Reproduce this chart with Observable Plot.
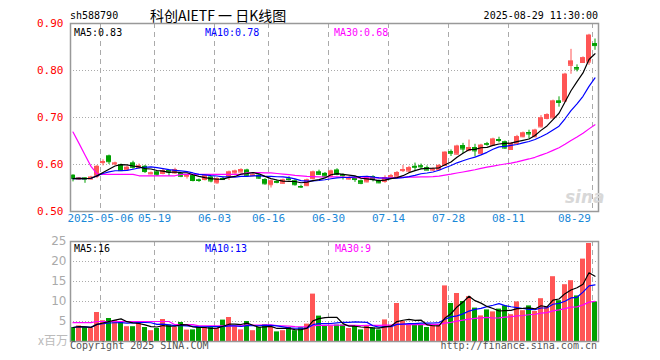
<!DOCTYPE html>
<html><head><meta charset="utf-8">
<script src="https://cdn.jsdelivr.net/npm/d3@7"></script>
<script src="https://cdn.jsdelivr.net/npm/@observablehq/plot@0.6"></script>
<style>
body{margin:0;background:#fff;}
#wrap{position:relative;width:660px;height:360px;overflow:hidden;font-family:"DejaVu Sans Mono",monospace;}
.t{position:absolute;white-space:nowrap;font-size:10px;line-height:10px;}
#wrap svg{position:absolute;left:0;}
</style></head><body>
<div id="wrap"></div>
<script>
const dates = [
"2025-04-24","2025-04-25","2025-04-28","2025-04-29","2025-04-30",
"2025-05-06","2025-05-07","2025-05-08","2025-05-09","2025-05-12","2025-05-13","2025-05-14","2025-05-15","2025-05-16",
"2025-05-19","2025-05-20","2025-05-21","2025-05-22","2025-05-23","2025-05-26","2025-05-27","2025-05-28","2025-05-29","2025-05-30",
"2025-06-03","2025-06-04","2025-06-05","2025-06-06","2025-06-09","2025-06-10","2025-06-11","2025-06-12","2025-06-13",
"2025-06-16","2025-06-17","2025-06-18","2025-06-19","2025-06-20","2025-06-23","2025-06-24","2025-06-25","2025-06-26","2025-06-27",
"2025-06-30","2025-07-01","2025-07-02","2025-07-03","2025-07-04","2025-07-07","2025-07-08","2025-07-09","2025-07-10","2025-07-11",
"2025-07-14","2025-07-15","2025-07-16","2025-07-17","2025-07-18","2025-07-21","2025-07-22","2025-07-23","2025-07-24","2025-07-25",
"2025-07-28","2025-07-29","2025-07-30","2025-07-31","2025-08-01","2025-08-04","2025-08-05","2025-08-06","2025-08-07","2025-08-08",
"2025-08-11","2025-08-12","2025-08-13","2025-08-14","2025-08-15","2025-08-18","2025-08-19","2025-08-20","2025-08-21","2025-08-22",
"2025-08-25","2025-08-26","2025-08-27","2025-08-28","2025-08-29"];
const open = [0.577,0.569,0.571,0.569,0.575,0.604,0.618,0.601,0.599,0.589, 0.603,0.594,0.596,0.580,0.584,0.581,0.587,0.582,0.581,0.575, 0.576,0.567,0.568,0.573,0.561,0.570,0.574,0.582,0.584,0.588, 0.576,0.577,0.568,0.557,0.564,0.560,0.569,0.565,0.553,0.555, 0.570,0.584,0.581,0.575,0.588,0.578,0.569,0.572,0.565,0.563, 0.574,0.565,0.564,0.574,0.575,0.587,0.586,0.596,0.597,0.593, 0.588,0.589,0.598,0.627,0.622,0.640,0.630,0.636,0.623,0.644, 0.641,0.653,0.648,0.632,0.645,0.659,0.668,0.659,0.680,0.698, 0.699,0.735,0.735,0.811,0.806,0.817,0.818,0.857];
const high = [0.578,0.572,0.572,0.575,0.598,0.610,0.620,0.605,0.601,0.597, 0.607,0.601,0.598,0.584,0.586,0.590,0.589,0.592,0.583,0.579, 0.578,0.569,0.578,0.575,0.572,0.573,0.586,0.588,0.591,0.590, 0.580,0.579,0.570,0.567,0.567,0.569,0.574,0.568,0.556,0.569, 0.586,0.588,0.583,0.588,0.591,0.580,0.574,0.574,0.567,0.575, 0.576,0.567,0.576,0.579,0.585,0.598,0.596,0.603,0.601,0.597, 0.593,0.600,0.627,0.631,0.641,0.645,0.652,0.643,0.643,0.647, 0.656,0.658,0.650,0.647,0.662,0.669,0.673,0.675,0.704,0.708, 0.737,0.744,0.794,0.845,0.812,0.829,0.877,0.867];
const low = [0.563,0.566,0.560,0.567,0.570,0.597,0.600,0.598,0.585,0.587, 0.590,0.590,0.581,0.578,0.575,0.578,0.575,0.579,0.572,0.569, 0.563,0.562,0.565,0.561,0.558,0.566,0.566,0.579,0.582,0.573, 0.574,0.568,0.556,0.550,0.559,0.558,0.565,0.554,0.549,0.553, 0.567,0.577,0.573,0.572,0.576,0.567,0.567,0.562,0.557,0.561, 0.563,0.559,0.560,0.571,0.573,0.583,0.581,0.586,0.590,0.587, 0.585,0.587,0.596,0.617,0.620,0.623,0.627,0.616,0.621,0.639, 0.639,0.646,0.632,0.630,0.642,0.657,0.654,0.657,0.678,0.695, 0.697,0.722,0.733,0.792,0.797,0.815,0.811,0.843];
const close = [0.570,0.571,0.569,0.573,0.596,0.606,0.606,0.603,0.587,0.594, 0.594,0.597,0.585,0.582,0.578,0.587,0.584,0.589,0.575,0.577, 0.566,0.566,0.576,0.565,0.570,0.568,0.584,0.586,0.589,0.577, 0.578,0.571,0.559,0.565,0.562,0.567,0.568,0.557,0.552,0.567, 0.584,0.579,0.575,0.586,0.579,0.576,0.571,0.568,0.560,0.572, 0.568,0.561,0.572,0.576,0.583,0.589,0.593,0.594,0.595,0.588, 0.590,0.598,0.626,0.624,0.639,0.633,0.636,0.629,0.641,0.643, 0.654,0.651,0.635,0.645,0.659,0.667,0.665,0.673,0.699,0.706, 0.735,0.732,0.792,0.820,0.803,0.827,0.875,0.853];
const volume = [3.5,3.9,3.5,3.25,7.25,5.2,5.75,5.2,4.9,3.7, 3.7,5.0,3.5,2.7,3.25,5.5,4.1,3.5,4.75,2.85, 2.9,3.5,3.5,3.5,3.25,5.35,6.0,3.7,2.9,5.0, 2.7,3.5,4.2,3.5,2.4,2.7,3.5,2.7,3.4,4.35, 11.85,6.35,3.85,3.9,4.1,4.1,3.25,3.75,2.9,3.75, 3.4,2.9,5.4,3.75,9.5,5.0,4.1,4.1,4.1,3.5, 3.9,3.9,13.9,9.5,12.0,10.0,11.2,8.35,6.4,7.9, 7.4,8.1,8.9,6.7,9.9,7.7,8.9,7.5,10.7,8.5, 16.2,10.2,14.2,15.2,11.4,20.6,24.5,9.9];
// MA30 values before a full 30-day window exists
const priceMa30Head = [0.669,0.645,0.620,0.596,0.580, 0.579,0.579,0.579,0.579,0.579,0.579, 0.576,0.576,0.576,0.576,0.576,0.576,0.576, 0.579,0.579,0.579,0.579,0.579,0.579,0.579,0.579,0.579,0.579,0.579];
const volMa30Head = [4.7,4.7,4.7,4.7, 5.0,5.0,5.0,5.0,5.0,5.0,5.0,5.0,5.0,5.0,5.0,5.0,5.0, 4.2,4.2,4.2,4.2, 3.9,3.9,3.9,3.9,3.9,3.9,3.9,3.9];
const tickDates = ["2025-05-06","2025-05-19","2025-06-03","2025-06-16","2025-06-30","2025-07-14","2025-07-28","2025-08-11","2025-08-29"];
const tickLabels = ["2025-05-06","05-19","06-03","06-16","06-30","07-14","07-28","08-11","08-29"];
const priceTicks = [0.5,0.6,0.7,0.8,0.9];
const volTicks = [5,10,15,20,25];

function movingAvg(arr, k, head) {
  return arr.map((_, i) => {
    if (head && i < head.length) return head[i];
    return d3.mean(arr.slice(Math.max(0, i - k + 1), i + 1));
  });
}
const pMa5 = movingAvg(close, 5), pMa10 = movingAvg(close, 10), pMa30 = movingAvg(close, 30, priceMa30Head);
const vMa5 = movingAvg(volume, 5), vMa10 = movingAvg(volume, 10), vMa30 = movingAvg(volume, 30, volMa30Head);
const rows = dates.map((d, i) => ({date: d, o: open[i], h: high[i], l: low[i], c: close[i], v: volume[i],
  ma5: pMa5[i], ma10: pMa10[i], ma30: pMa30[i], vma5: vMa5[i], vma10: vMa10[i], vma30: vMa30[i]}));

const RED = "#ff5555", GREEN = "#00a000", GRID = "#aaaaaa", FRAME = "#999999";
const col = d => d.c >= d.o ? RED : GREEN;
const MONO = "DejaVu Sans Mono";
const xScale = {type: "band", domain: dates, paddingInner: 0.17, paddingOuter: 0, align: 0, axis: null};

const price = Plot.plot({
  width: 660, height: 230, marginLeft: 70, marginRight: 62, marginTop: 23, marginBottom: 19,
  x: xScale,
  y: {domain: [0.5, 0.9], label: null},
  color: {type: "identity"},
  style: {background: "transparent", fontFamily: MONO, overflow: "visible"},
  marks: [
    Plot.ruleY([0.6, 0.7, 0.8], {stroke: GRID, strokeDasharray: "1,2"}),
    Plot.ruleX(tickDates, {x: d => d, stroke: GRID, strokeDasharray: "5,4", dx: -2.5}),
    Plot.ruleX(rows, {x: "date", y1: "l", y2: "h", stroke: col}),
    Plot.barY(rows, {x: "date", y1: "o", y2: "c", fill: col}),
    Plot.tickY(rows, {x: "date", y: "o", stroke: col}),
    Plot.tickY(rows, {x: "date", y: "c", stroke: col}),
    Plot.lineY(rows, {x: "date", y: "ma30", stroke: "#ff00ff", strokeWidth: 1.2}),
    Plot.lineY(rows, {x: "date", y: "ma10", stroke: "#0000ff", strokeWidth: 1.2}),
    Plot.lineY(rows, {x: "date", y: "ma5", stroke: "#000000", strokeWidth: 1.2}),
    Plot.frame({stroke: FRAME, strokeWidth: 1.5}),
    Plot.axisY({ticks: priceTicks, tickFormat: d3.format(".2f"), tickSize: 0, tickPadding: 7, color: "#ff0000", fontSize: 11, fontFamily: MONO, label: null}),
    Plot.text(tickDates.slice(0, -1), {x: d => d, text: (d, i) => tickLabels[i], frameAnchor: "bottom", dy: 10, dx: -2.5, fill: "#1a88d8", fontSize: 11, fontFamily: MONO}),
    Plot.text(tickDates.slice(-1), {x: d => d, text: () => tickLabels[tickLabels.length - 1], frameAnchor: "bottom", dy: 10, dx: -4, textAnchor: "end", fill: "#1a88d8", fontSize: 11, fontFamily: MONO})
  ]
});
price.style.top = "0px";

const vol = Plot.plot({
  width: 660, height: 130, marginLeft: 70, marginRight: 62, marginTop: 11, marginBottom: 19,
  x: xScale,
  y: {domain: [0, 25], label: null},
  color: {type: "identity"},
  style: {background: "transparent", fontFamily: MONO, overflow: "visible"},
  marks: [
    Plot.ruleY([5, 10, 15, 20], {stroke: GRID, strokeDasharray: "1,2"}),
    Plot.ruleX(tickDates, {x: d => d, stroke: GRID, strokeDasharray: "5,4", dx: -2.5}),
    Plot.barY(rows, {x: "date", y: "v", fill: col}),
    Plot.lineY(rows, {x: "date", y: "vma30", stroke: "#ff00ff", strokeWidth: 1.2}),
    Plot.lineY(rows, {x: "date", y: "vma10", stroke: "#0000ff", strokeWidth: 1.2}),
    Plot.lineY(rows, {x: "date", y: "vma5", stroke: "#000000", strokeWidth: 1.2}),
    Plot.frame({stroke: FRAME, strokeWidth: 1.5}),
    Plot.axisY({ticks: volTicks, tickSize: 0, tickPadding: 4, color: "#aaaaaa", fontSize: 12, fontFamily: "DejaVu Sans", label: null})
  ]
});
vol.style.top = "230px";

const wrap = document.getElementById("wrap");
wrap.appendChild(price);
wrap.appendChild(vol);

function label(text, css) {
  const s = document.createElement("div");
  s.className = "t";
  s.textContent = text;
  Object.assign(s.style, css);
  wrap.appendChild(s);
}
label("sh588790", {left: "70px", top: "11px", color: "#000"});
label("科创AIETF 一 日K线图", {left: "150px", top: "7px", fontSize: "14px", lineHeight: "16px", fontFamily: "'Noto Sans CJK SC'", color: "#000"});
label("2025-08-29 11:30:00", {right: "62px", top: "11px", color: "#000"});
label("MA5:0.83", {left: "74px", top: "28px", color: "#000"});
label("MA10:0.78", {left: "205px", top: "28px", color: "#0000ff"});
label("MA30:0.68", {left: "334px", top: "28px", color: "#ff00ff"});
label("MA5:16", {left: "74px", top: "244px", color: "#000"});
label("MA10:13", {left: "205px", top: "244px", color: "#0000ff"});
label("MA30:9", {left: "335px", top: "244px", color: "#ff00ff"});
label("x百万", {left: "38px", top: "334px", fontSize: "12px", lineHeight: "12px", fontFamily: "'Noto Sans CJK SC'", color: "#bbbbbb"});
label("Copyright 2025 SINA.COM", {left: "70px", top: "341px", color: "#555"});
label("http://finance.sina.com.cn", {right: "63px", top: "341px", color: "#555"});
label("sina", {left: "565px", top: "189px", fontSize: "17px", lineHeight: "17px", fontFamily: "'DejaVu Sans'", fontWeight: "bold", fontStyle: "italic", color: "#d8d8d8"});
</script>
</body></html>
